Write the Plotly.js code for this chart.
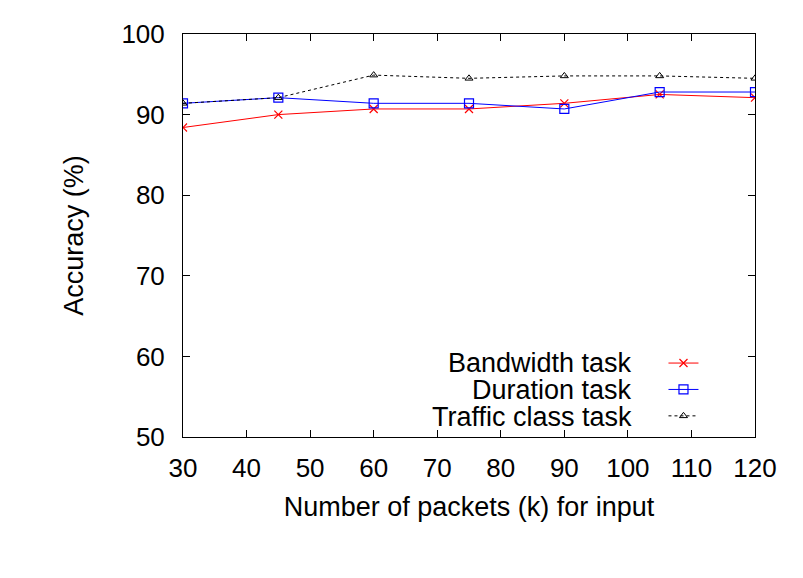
<!DOCTYPE html>
<html>
<head>
<meta charset="utf-8">
<script src="https://cdn.plot.ly/plotly-3.0.1.min.js"></script>
<style>html,body{margin:0;padding:0;background:#fff;}#chart{width:803px;height:578px;}</style>
</head>
<body>
<div id="chart"></div>
<script>
const packets = [30, 45, 60, 75, 90, 105, 120];
const bandwidth = [88.4, 90.0, 90.7, 90.7, 91.4, 92.5, 92.1];
const duration = [91.4, 92.1, 91.4, 91.4, 90.7, 92.8, 92.8];
const trafficClass = [91.4, 92.1, 94.9, 94.5, 94.8, 94.8, 94.5];
const seriesNames = ['Bandwidth task', 'Duration task', 'Traffic class task'];
const xTicks = [30, 40, 50, 60, 70, 80, 90, 100, 110, 120];
const yTicks = [50, 60, 70, 80, 90, 100];

const font = 'Liberation Sans, Arial, sans-serif';
const fs = 26;
const tfs = 27;
const traces = [
  {x: packets, y: bandwidth, mode: 'lines+markers', name: ' ',
   line: {color: '#ff0000', width: 1},
   marker: {symbol: 'x-thin-open', size: 8, color: '#ff0000', line: {color: '#ff0000', width: 1.2}}},
  {x: packets, y: duration, mode: 'lines+markers', name: ' ',
   line: {color: '#0000ff', width: 1},
   marker: {symbol: 'square-open', size: 9, color: '#0000ff', line: {color: '#0000ff', width: 1.2}}},
  {x: packets, y: trafficClass, mode: 'lines+markers', name: ' ',
   line: {color: '#000000', width: 1, dash: 'dot'},
   marker: {symbol: 'triangle-up-open', size: 7, color: '#000000', line: {color: '#000000', width: 1}}}
];

const legendY = [0.184, 0.117, 0.050];
const annotations = seriesNames.map((n, i) => ({
  text: n, xref: 'paper', yref: 'paper', x: 0.789, y: legendY[i],
  xanchor: 'right', yanchor: 'middle', showarrow: false,
  font: {family: font, size: tfs, color: '#000'}
}));

const axisCommon = {
  showgrid: false, zeroline: false, showline: true, linecolor: '#000', linewidth: 1,
  mirror: 'ticks', ticks: 'inside', ticklen: 7, tickwidth: 1, tickcolor: '#000',
  tickfont: {family: font, size: fs, color: '#000'}
};

const layout = {
  width: 803, height: 578,
  margin: {l: 183, r: 48, t: 34, b: 141},
  paper_bgcolor: '#fff', plot_bgcolor: '#fff',
  showlegend: true,
  legend: {x: 0.84, xanchor: 'left', y: 0.117, yanchor: 'middle',
    bgcolor: 'rgba(0,0,0,0)', font: {family: font, size: 18}, itemwidth: 30},
  xaxis: Object.assign({}, axisCommon, {
    range: [30, 120], tickvals: xTicks, ticktext: xTicks.map(String), ticklabelstandoff: 8,
    title: {text: 'Number of packets (k) for input', font: {family: font, size: tfs, color: '#000'}, standoff: 14}
  }),
  yaxis: Object.assign({}, axisCommon, {
    range: [50, 100], tickvals: yTicks, ticktext: yTicks.map(String), ticklabelstandoff: 12,
    title: {text: 'Accuracy (%)', font: {family: font, size: tfs, color: '#000'}, standoff: 29}
  }),
  annotations: annotations
};

Plotly.newPlot('chart', traces, layout, {displayModeBar: false, staticPlot: true});
</script>
</body>
</html>
